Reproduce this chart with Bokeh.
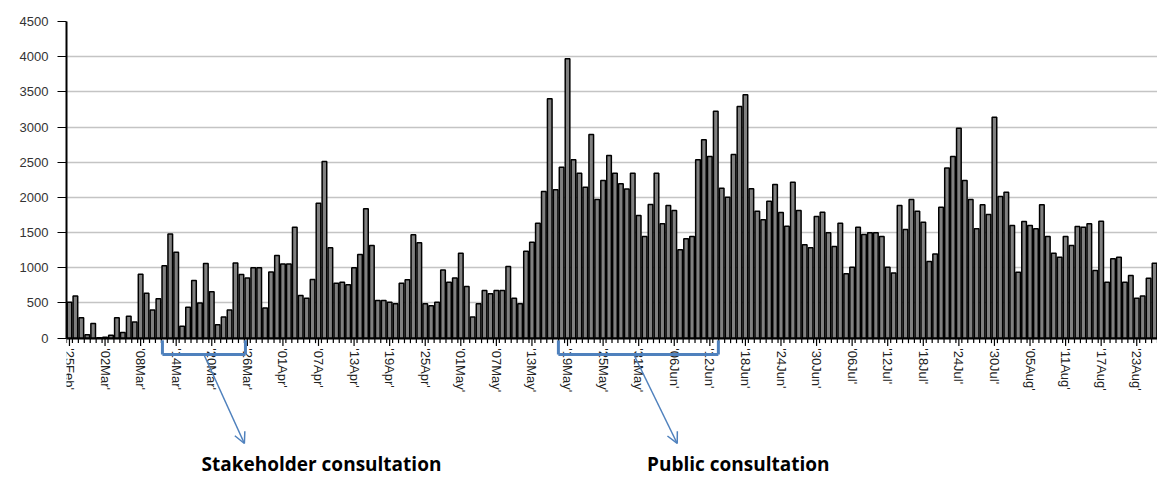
from bokeh.plotting import figure
from bokeh.models import FixedTicker, Arrow, OpenHead, Label, ColumnDataSource, Range1d
from bokeh.embed import file_html
from bokeh.resources import INLINE

# Daily counts, 25 Feb .. 26 Aug (2012)
visits = [
    510, 600, 290, 50, 210, 5, 15, 40, 290, 80,
    310, 230, 910, 640, 400, 560, 1030, 1480, 1220, 170,
    440, 820, 500, 1060, 660, 190, 300, 400, 1070, 905,
    857, 1000, 1000, 430, 940, 1175, 1055, 1055, 1577, 606,
    568, 834, 1918, 2510, 1284, 780, 796, 758, 1000, 1190,
    1838, 1317, 535, 535, 512, 488, 782, 830, 1470, 1355,
    488, 460, 512, 970, 796, 857, 1208, 734, 300, 488,
    677, 630, 677, 677, 1018, 568, 488, 1236, 1364, 1634,
    2084, 3401, 2110, 2430, 3970, 2534, 2345, 2146, 2894, 1970,
    2240, 2596, 2345, 2193, 2120, 2345, 1743, 1445, 1900, 2345,
    1625, 1885, 1814, 1255, 1412, 1445, 2534, 2818, 2582, 3226,
    2131, 2004, 2610, 3292, 3458, 2122, 1805, 1682, 1947, 2184,
    1786, 1592, 2217, 1814, 1326, 1284, 1729, 1790, 1497, 1303,
    1634, 914, 1009, 1577, 1473, 1497, 1497, 1445, 1009, 928,
    1885, 1544, 1970, 1805, 1648, 1090, 1198, 1862, 2420, 2582,
    2984, 2240, 1970, 1554, 1895, 1757, 3141, 2013, 2075, 1601,
    938, 1658, 1601, 1554, 1895, 1445, 1208, 1151, 1445, 1317,
    1587, 1577, 1625, 962, 1663, 796, 1128, 1151, 796, 890,
    568, 600, 853, 1066,
]

tick_labels = [
    "'25Feb'", "'02Mar'", "'08Mar'", "'14Mar'", "'20Mar'", "'26Mar'",
    "'01Apr'", "'07Apr'", "'13Apr'", "'19Apr'", "'25Apr'", "'01May'",
    "'07May'", "'13May'", "'19May'", "'25May'", "'31May'", "'06Jun'",
    "'12Jun'", "'18Jun'", "'24Jun'", "'30Jun'", "'06Jul'", "'12Jul'",
    "'18Jul'", "'24Jul'", "'30Jul'", "'05Aug'", "'11Aug'", "'17Aug'",
    "'23Aug'",
]
tick_step = 6
y_ticks = [0, 500, 1000, 1500, 2000, 2500, 3000, 3500, 4000, 4500]

days = list(range(len(visits)))
src = ColumnDataSource(dict(x=days, top=visits))

# the frame runs down to the canvas bottom so the annotations below the axis are drawn
p = figure(width=1157, height=479, output_backend="svg", toolbar_location=None,
           x_range=Range1d(-0.5, len(visits) - 0.5), y_range=Range1d(-2008, 4500),
           min_border_left=66, min_border_right=0, min_border_top=21,
           min_border_bottom=0)
p.outline_line_color = None
p.background_fill_color = "white"
p.border_fill_color = "white"

p.vbar(x="x", top="top", bottom=0, width=0.78, source=src,
       fill_color="#808080", line_color="black", line_width=1.5)

# category tick comb below the axis (one per day boundary, longer at labelled days)
bounds = [d - 0.5 for d in range(len(visits) + 1)]
p.segment(x0=bounds, y0=[0] * len(bounds), x1=bounds, y1=[-70] * len(bounds),
          line_color="black", line_width=1.2)
major = [i * tick_step for i in range(len(tick_labels))]
p.segment(x0=major, y0=[0] * len(major), x1=major, y1=[-110] * len(major),
          line_color="black", line_width=1.2)

# x axis drawn at value 0
p.xaxis.fixed_location = 0
p.xaxis.ticker = FixedTicker(ticks=major)
p.xaxis.major_label_overrides = {m: lab for m, lab in zip(major, tick_labels)}
p.xaxis.major_label_orientation = "vertical"
p.xaxis.major_tick_line_color = None
p.xaxis.major_tick_out = 5
p.xaxis.major_tick_in = 0
p.xaxis.minor_tick_line_color = None
p.xaxis.major_label_standoff = 5
p.xaxis.axis_line_width = 2
p.xaxis.major_label_text_font = "Liberation Sans"
p.xaxis.major_label_text_font_size = "13px"
p.xaxis.major_label_text_color = "#222222"

p.yaxis.ticker = FixedTicker(ticks=y_ticks)
p.yaxis.bounds = (0, 4500)
p.yaxis.minor_tick_line_color = None
p.yaxis.major_tick_out = 9
p.yaxis.major_tick_in = 0
p.yaxis.major_label_standoff = 9
p.yaxis.axis_line_width = 2
p.yaxis.major_label_text_font = "Liberation Sans"
p.yaxis.major_label_text_font_size = "13px"
p.yaxis.major_label_text_color = "#333333"

p.xgrid.grid_line_color = None
p.ygrid.grid_line_color = "#c4c4c4"
p.ygrid.grid_line_width = 1.5

blue = "#4F81BD"

def seg(x0, y0, x1, y1, w):
    p.add_layout(Arrow(x_start=x0, y_start=y0, x_end=x1, y_end=y1,
                       start=None, end=None, line_color=blue, line_width=w))

# Stakeholder consultation bracket
seg(15.68, -30, 15.68, -232, 3)
seg(15.68, -232, 29.68, -232, 3)
seg(29.68, -30, 29.68, -232, 3)
p.add_layout(Arrow(x_start=22.77, y_start=-250, x_end=29.5, y_end=-1496,
                   line_color=blue, line_width=1.5,
                   end=OpenHead(size=11, line_color=blue, line_width=1.5)))
# Public consultation bracket
seg(82.46, -30, 82.46, -232, 3)
seg(82.46, -232, 109.44, -232, 3)
seg(109.44, -30, 109.44, -232, 3)
p.add_layout(Arrow(x_start=95.28, y_start=-250, x_end=102.5, y_end=-1496,
                   line_color=blue, line_width=1.5,
                   end=OpenHead(size=11, line_color=blue, line_width=1.5)))

p.add_layout(Label(x=42.5, y=-1790, text="Stakeholder consultation",
                   text_font="Open Sans", text_font_style="bold",
                   text_font_size="19px", text_align="center",
                   text_baseline="middle", text_color="black"))
p.add_layout(Label(x=112.8, y=-1790, text="Public consultation",
                   text_font="Open Sans", text_font_style="bold",
                   text_font_size="19px", text_align="center",
                   text_baseline="middle", text_color="black"))

open("out.html", "w").write(file_html(p, INLINE))
